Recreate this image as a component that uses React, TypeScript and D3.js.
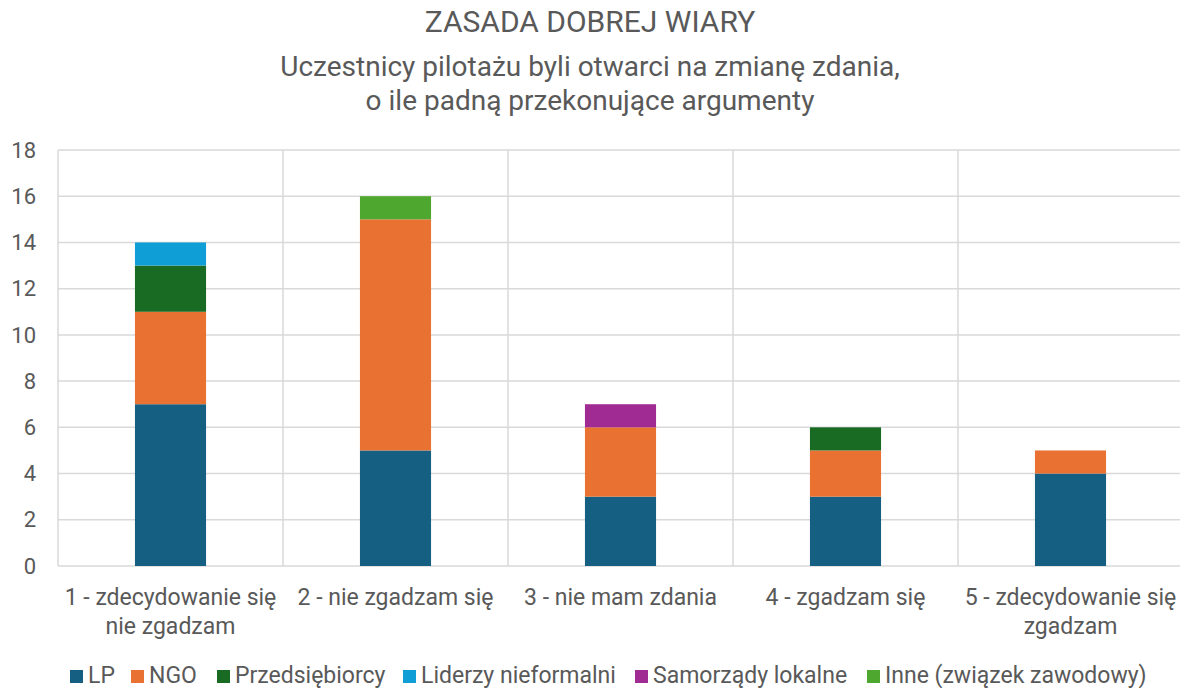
import * as d3 from "d3";

// chart data
const categories = [
  "1 - zdecydowanie się nie zgadzam",
  "2 - nie zgadzam się",
  "3 - nie mam zdania",
  "4 - zgadzam się",
  "5 - zdecydowanie się zgadzam",
];
const categoryLines = [
  ["1 - zdecydowanie się", "nie zgadzam"],
  ["2 - nie zgadzam się"],
  ["3 - nie mam zdania"],
  ["4 - zgadzam się"],
  ["5 - zdecydowanie się", "zgadzam"],
];
const seriesNames = [
  "LP",
  "NGO",
  "Przedsiębiorcy",
  "Liderzy nieformalni",
  "Samorządy lokalne",
  "Inne (związek zawodowy)",
];
const lp = [7, 5, 3, 3, 4];
const ngo = [4, 10, 3, 2, 1];
const przedsiebiorcy = [2, 0, 0, 1, 0];
const liderzy = [1, 0, 0, 0, 0];
const samorzady = [0, 0, 1, 0, 0];
const inne = [0, 1, 0, 0, 0];
const yTicks = [0, 2, 4, 6, 8, 10, 12, 14, 16, 18];
const colors = ["#156082", "#E97132", "#196B24", "#0F9ED5", "#A02B93", "#4EA72E"];

const seriesValues = [lp, ngo, przedsiebiorcy, liderzy, samorzady, inne];

const width = 1180;
const height = 688;
const margin = { left: 58, right: -3, top: 150, bottom: 122 };
const font = "Roboto, sans-serif";
const textColor = "#595959";

export default function App() {
  const rows = categories.map((c, i) => {
    const row: Record<string, any> = { category: c };
    seriesNames.forEach((s, j) => (row[s] = seriesValues[j][i]));
    return row;
  });

  const stacked = d3.stack<any>().keys(seriesNames)(rows);

  const x = d3
    .scaleBand()
    .domain(categories)
    .range([margin.left, width - margin.right])
    .paddingInner(0)
    .paddingOuter(0);

  const y = d3
    .scaleLinear()
    .domain([0, 18])
    .range([height - margin.bottom, margin.top]);

  const barWidth = x.bandwidth() * 0.316;

  return (
    <svg
      width={width}
      height={height}
      style={{ position: "absolute", left: 0, top: 0, background: "#fff" }}
      fontFamily={font}
    >
      {/* title */}
      <text textAnchor="middle" fill={textColor} fontSize={28}>
        <tspan x={590} y={32} fontSize={30}>ZASADA DOBREJ WIARY</tspan>
        <tspan x={590} y={76}>Uczestnicy pilotażu byli otwarci na zmianę zdania,</tspan>
        <tspan x={590} y={110}>o ile padną przekonujące argumenty</tspan>
      </text>

      {/* horizontal grid */}
      {yTicks.map((t) => (
        <line
          key={"h" + t}
          x1={margin.left}
          x2={width - margin.right}
          y1={y(t)}
          y2={y(t)}
          stroke="#d9d9d9"
          strokeWidth={1.5}
        />
      ))}
      {/* vertical grid */}
      {categories.map((c) => (
        <line
          key={"v" + c}
          x1={x(c)!}
          x2={x(c)!}
          y1={y(18)}
          y2={y(0)}
          stroke="#d9d9d9"
          strokeWidth={1.5}
        />
      ))}

      {/* y tick labels */}
      {yTicks.map((t) => (
        <text
          key={"yt" + t}
          x={36}
          y={y(t)}
          dy="0.35em"
          textAnchor="end"
          fill={textColor}
          fontSize={22}
        >
          {t}
        </text>
      ))}

      {/* bars */}
      {stacked.map((layer, j) =>
        layer.map((d, i) =>
          d[1] - d[0] > 0 ? (
            <rect
              key={j + "-" + i}
              x={x(categories[i])! + (x.bandwidth() - barWidth) / 2}
              width={barWidth}
              y={y(d[1])}
              height={y(d[0]) - y(d[1])}
              fill={colors[j]}
            />
          ) : null
        )
      )}

      {/* category labels */}
      {categories.map((c, i) => (
        <text
          key={"cl" + c}
          textAnchor="middle"
          fill={textColor}
          fontSize={23}
        >
          {categoryLines[i].map((line, k) => (
            <tspan key={k} x={x(c)! + x.bandwidth() / 2} y={605 + k * 29}>
              {line}
            </tspan>
          ))}
        </text>
      ))}

      {/* legend */}
      <Legend />
    </svg>
  );
}

function Legend() {
  const starts = [70, 131, 217, 403, 635, 867];
  return (
    <g>
      {seriesNames.map((s, i) => (
        <g key={s} transform={`translate(${starts[i]},0)`}>
          <rect x={0} y={670} width={13} height={13} fill={colors[i]} />
          <text x={18} y={683} fill={textColor} fontSize={23}>
            {s}
          </text>
        </g>
      ))}
    </g>
  );
}
